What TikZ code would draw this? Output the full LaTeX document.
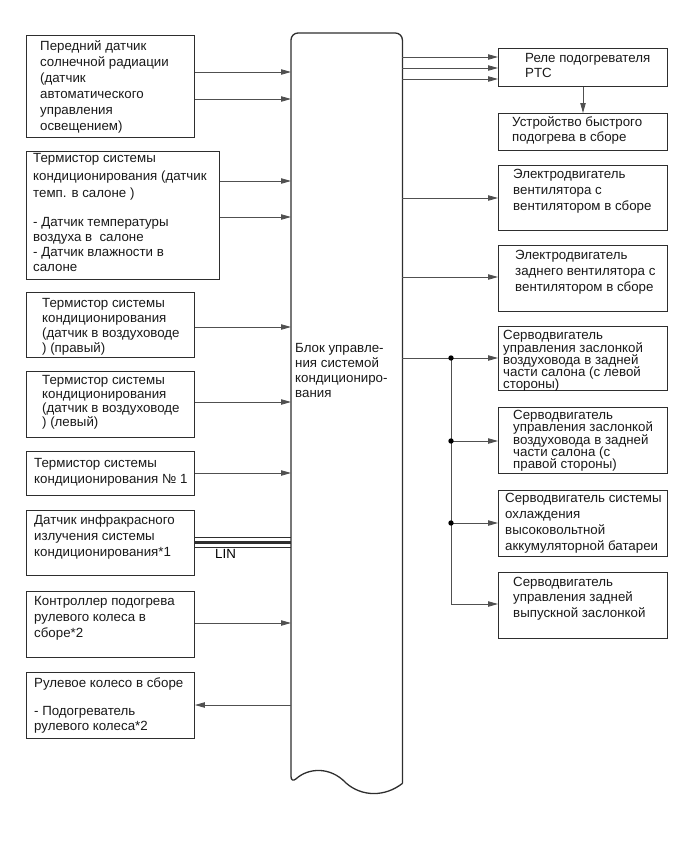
\documentclass[tikz,border=0pt]{standalone}
\usepackage{fontspec}
\setmainfont{Liberation Sans}
\usepackage{xcolor}
\usetikzlibrary{arrows.meta,calc}
\definecolor{frameline}{HTML}{2E2E2E}
\definecolor{wireline}{HTML}{505050}
\newcommand{\tightlines}[1]{\fontsize{13.3}{#1}\selectfont\lineskiplimit=-20pt\relax}

\begin{document}
\begin{tikzpicture}[
			x=1pt,y=-1pt,
			every node/.style={font=\fontsize{13.3}{16}\selectfont,align=left,inner sep=0pt},
			box/.style={draw=frameline,line width=0.9pt,anchor=north west,minimum width=168pt},
			rbox/.style={box,minimum width=169pt},
			txt/.style={anchor=north west,text=black!90},
			arr/.style={-{Triangle[length=10pt,width=5.4pt]},draw=wireline,line width=0.8pt},
			wire/.style={draw=frameline,line width=0.8pt},
			blockline/.style={draw=frameline,line width=1.3pt},
			dot/.style={circle,fill=black,minimum size=5.4pt}
			]
			\useasboundingbox (0,0) rectangle (690,854);
			% central control unit
			\node[minimum width=111pt,minimum height=750pt,anchor=north west] (ecu) at (291,33) {};
			\draw[blockline] (ecu.south east) [rounded corners=7pt] -- (ecu.north east) -- (ecu.north west) -- (ecu.south west)
				[sharp corners] .. controls (308,768) and (330,766) .. (346,783) .. controls (362,797) and (385,797) .. (ecu.south east);
			\node[txt,font=\fontsize{13.3}{15}\selectfont] (ecu-t) at ($(ecu.north west)+(4,310)$) {Блок управле-\\ния системой\\кондициониро-\\вания};
			% inputs
			\node[box,minimum height=102pt] (sun) at (26,35) {};
			\node[txt] (sun-t) at ($(sun.north west)+(14,5)$) {Передний датчик\\солнечной радиации\\(датчик\\автоматического\\управления\\освещением)};
			\node[box,minimum width=193pt,minimum height=128pt] (cab) at (26,151) {};
			\node[txt,font=\fontsize{13.3}{17.5}\selectfont] (cab-t) at ($(cab.north west)+(7,2.5)$) {Термистор системы\\кондиционирования (датчик\\темп. в салоне )\\[11pt]- Датчик температуры\\[-2.5pt]воздуха в\ \ салоне\\[-2.5pt]- Датчик влажности в\\[-2.5pt]салоне};
			\node[box,minimum height=65pt] (ductr) at (26,292) {};
			\node[txt,font=\fontsize{13.3}{15}\selectfont] (ductr-t) at ($(ductr.north west)+(16,6)$) {Термистор системы\\кондиционирования\\(датчик в воздуховоде\\) (правый)};
			\node[box,minimum height=66pt] (ductl) at (26,371) {};
			\node[txt,font=\fontsize{13.3}{14}\selectfont] (ductl-t) at ($(ductl.north west)+(16,4)$) {Термистор системы\\кондиционирования\\(датчик в воздуховоде\\) (левый)};
			\node[box,minimum height=44pt] (thone) at (26,451) {};
			\node[txt] (thone-t) at ($(thone.north west)+(8,7)$) {Термистор системы\\кондиционирования № 1};
			\node[box,minimum height=65pt] (ir) at (26,510) {};
			\node[txt] (ir-t) at ($(ir.north west)+(8,5)$) {Датчик инфракрасного\\излучения системы\\кондиционирования*1};
			\node[box,minimum height=66pt] (whctl) at (26,591) {};
			\node[txt] (whctl-t) at ($(whctl.north west)+(8,4.7)$) {Контроллер подогрева\\рулевого колеса в\\сборе*2};
			\node[box,minimum height=66pt] (wheel) at (26,672) {};
			\node[txt,font=\fontsize{13.3}{15}\selectfont] (wheel-t) at ($(wheel.north west)+(8,5.7)$) {Рулевое колесо в сборе\\[13pt]- Подогреватель\\рулевого колеса*2};
			% outputs
			\node[rbox,minimum height=38pt] (ptc) at (498,48) {};
			\node[txt,font=\fontsize{13.3}{15}\selectfont] (ptc-t) at ($(ptc.north west)+(27,5.3)$) {Реле подогревателя\\PTC};
			\node[rbox,minimum height=37pt] (quick) at (498,113) {};
			\node[txt,font=\fontsize{13.3}{15}\selectfont] (quick-t) at ($(quick.north west)+(14,3.7)$) {Устройство быстрого\\подогрева в сборе};
			\node[rbox,minimum height=65pt] (fan) at (498,165) {};
			\node[txt] (fan-t) at ($(fan.north west)+(15,4)$) {Электродвигатель\\вентилятора с\\вентилятором в сборе};
			\node[rbox,minimum height=66pt] (rfan) at (498,245) {};
			\node[txt] (rfan-t) at ($(rfan.north west)+(17,5)$) {Электродвигатель\\заднего вентилятора с\\вентилятором в сборе};
			\node[rbox,minimum height=64pt] (dampl) at (498,326) {};
			\node[txt,font={\tightlines{12.3}}] (dampl-t) at ($(dampl.north west)+(5,4.3)$) {Серводвигатель\\управления заслонкой\\воздуховода в задней\\части салона (с левой\\стороны)};
			\node[rbox,minimum height=66pt] (dampr) at (498,407) {};
			\node[txt,font={\tightlines{12.3}}] (dampr-t) at ($(dampr.north west)+(15,3)$) {Серводвигатель\\управления заслонкой\\воздуховода в задней\\части салона (с\\правой стороны)};
			\node[rbox,minimum height=66pt] (batt) at (498,490) {};
			\node[txt] (batt-t) at ($(batt.north west)+(7,3.3)$) {Серводвигатель системы\\охлаждения\\высоковольтной\\аккумуляторной батареи};
			\node[rbox,minimum height=66pt] (exh) at (498,572) {};
			\node[txt,font=\fontsize{13.3}{15.5}\selectfont] (exh-t) at ($(exh.north west)+(15,5)$) {Серводвигатель\\управления задней\\выпускной заслонкой};
			% input signals
			\draw[arr] (sun.east |- 0,72) -- (ecu.west |- 0,72);
			\draw[arr] (sun.east |- 0,99) -- (ecu.west |- 0,99);
			\draw[arr] (cab.east |- 0,181) -- (ecu.west |- 0,181);
			\draw[arr] (cab.east |- 0,217) -- (ecu.west |- 0,217);
			\draw[arr] (ductr.east |- 0,327) -- (ecu.west |- 0,327);
			\draw[arr] (ductl.east |- 0,402) -- (ecu.west |- 0,402);
			\draw[arr] (thone.east |- 0,473) -- (ecu.west |- 0,473);
			\draw[arr] (whctl.east |- 0,623) -- (ecu.west |- 0,623);
			\draw[arr] (ecu.west |- 0,705) -- (wheel.east |- 0,705);
			% LIN bus
			\draw[wire] (ir.east |- 0,537) -- (ecu.west |- 0,537);
			\draw[wire,line width=3pt] (ir.east |- 0,542) -- (ecu.west |- 0,542);
			\draw[wire] (ir.east |- 0,547) -- (ecu.west |- 0,547);
			\node[anchor=west] (lin) at (215,554) {LIN};
			% output signals
			\draw[arr] (ecu.east |- 0,57) -- (ptc.west |- 0,57);
			\draw[arr] (ecu.east |- 0,68) -- (ptc.west |- 0,68);
			\draw[arr] (ecu.east |- 0,79) -- (ptc.west |- 0,79);
			\draw[arr] (ptc.south -| 583,0) -- (quick.north -| 583,0);
			\draw[arr] (ecu.east |- 0,198) -- (fan.west |- 0,198);
			\draw[arr] (ecu.east |- 0,277) -- (rfan.west |- 0,277);
			\coordinate (split) at (451,358);
			\draw[arr] (ecu.east |- split) -- (dampl.west |- split);
			\draw[arr] (split) |- (exh.west |- 0,604);
			\draw[arr] (split |- 0,441) -- (dampr.west |- 0,441);
			\draw[arr] (split |- 0,523) -- (batt.west |- 0,523);
			\node[dot] (jone) at (split) {};
			\node[dot] (jtwo) at (split |- 0,441) {};
			\node[dot] (jthree) at (split |- 0,523) {};
		\end{tikzpicture}
\end{document}
